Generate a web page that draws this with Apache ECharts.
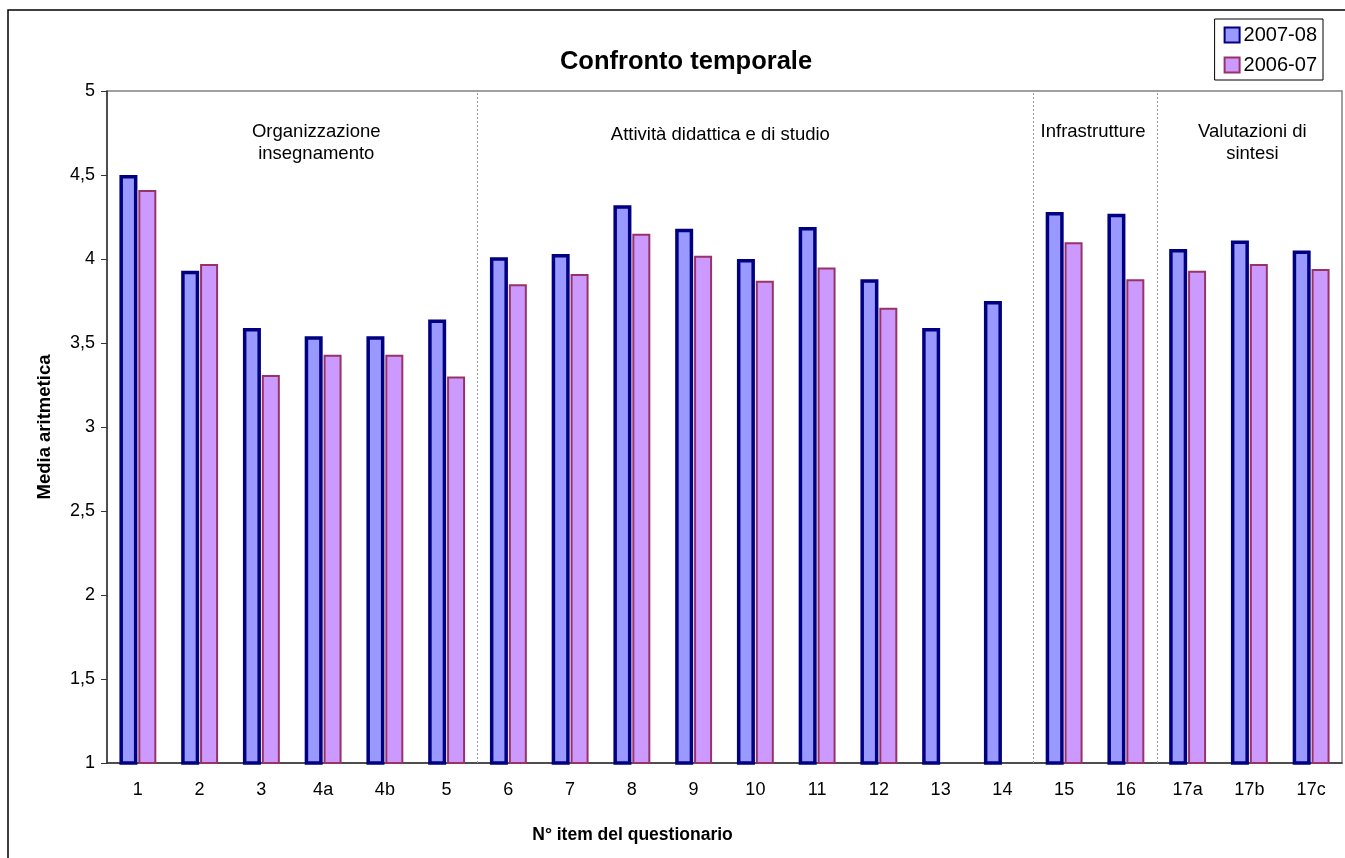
<!DOCTYPE html>
<html>
<head>
<meta charset="utf-8">
<title>Confronto temporale</title>
<script src="https://cdn.jsdelivr.net/npm/echarts@6/dist/echarts.min.js"></script>
<style>
  html, body { margin: 0; padding: 0; background: #fff; }
  #chart { width: 1345px; height: 858px; }
</style>
</head>
<body>
<div id="chart"></div>
<script>
// item del questionario
var items = ['1', '2', '3', '4a', '4b', '5', '6', '7', '8', '9', '10', '11', '12', '13', '14', '15', '16', '17a', '17b', '17c'];
// medie 2007-08 e 2006-07
var anno0708 = [4.50, 3.93, 3.59, 3.54, 3.54, 3.64, 4.01, 4.03, 4.32, 4.18, 4.00, 4.19, 3.88, 3.59, 3.75, 4.28, 4.27, 4.06, 4.11, 4.05];
var anno0607 = [4.41, 3.97, 3.31, 3.43, 3.43, 3.30, 3.85, 3.91, 4.15, 4.02, 3.87, 3.95, 3.71, null, null, 4.10, 3.88, 3.93, 3.97, 3.94];
// gruppi di item: [inizio, fine, etichetta]
var gruppi = [
  [0, 6, 'Organizzazione\ninsegnamento'],
  [6, 15, 'Attività didattica e di studio'],
  [15, 17, 'Infrastrutture'],
  [17, 20, 'Valutazioni di\nsintesi']
];
var separatori = [6, 15, 17];
// spostamento delle etichette dei gruppi
var spostamenti = [[24, 0], [-35, 3], [-2, 0], [3, 0]];

var font = 'Arial, "Liberation Sans", sans-serif';
var myChart = echarts.init(document.getElementById('chart'));

var option = {
  animation: false,
  textStyle: { fontFamily: font, color: '#000' },
  title: {
    text: 'Confronto temporale',
    left: 681,
    top: 44,
    textAlign: 'center',
    textStyle: { fontSize: 25.5, fontWeight: 'bold', color: '#000', fontFamily: font }
  },
  legend: {
    data: ['2007-08', '2006-07'],
    orient: 'vertical',
    right: 22,
    top: 19,
    itemWidth: 15,
    itemHeight: 15,
    itemGap: 10,
    padding: [6, 6, 5, 9],
    backgroundColor: '#fff',
    borderColor: '#000',
    borderWidth: 1,
    icon: 'rect',
    textStyle: { fontSize: 20, color: '#000', fontFamily: font, padding: [0, 0, 0, -1] }
  },
  grid: {
    left: 107,
    right: 3,
    top: 91,
    bottom: 95,
    show: true,
    borderColor: '#808080',
    borderWidth: 1.5
  },
  xAxis: [
    {
      type: 'category',
      data: items,
      name: 'N° item del questionario',
      nameLocation: 'middle',
      nameGap: 63,
      nameTextStyle: { fontSize: 17.5, fontWeight: 'bold', color: '#000', padding: [0, 184, 0, 0] },
      axisLine: { lineStyle: { color: '#333', width: 1.5 } },
      axisTick: { length: 6, lineStyle: { color: '#333' } },
      axisLabel: { fontSize: 18, color: '#000', margin: 18 }
    },
    {
      type: 'value',
      min: 0,
      max: items.length,
      show: false
    }
  ],
  yAxis: {
    type: 'value',
    min: 1,
    max: 5,
    interval: 0.5,
    name: 'Media aritmetica',
    nameLocation: 'middle',
    nameGap: 53,
    nameTextStyle: { fontSize: 18.5, fontWeight: 'bold', color: '#000' },
    axisLine: { show: true, lineStyle: { color: '#333', width: 1.5 } },
    axisTick: { show: true, length: 6, lineStyle: { color: '#333' } },
    splitLine: { show: false },
    axisLabel: {
      fontSize: 18,
      color: '#000',
      margin: 12,
      formatter: function (v) { return String(v).replace('.', ','); }
    }
  },
  series: [
    {
      name: '2007-08',
      type: 'bar',
      data: anno0708,
      barWidth: 18,
      barGap: '5%',
      itemStyle: { color: '#9999FF', borderColor: '#000080', borderWidth: 3.5 }
    },
    {
      name: '2006-07',
      type: 'bar',
      data: anno0607,
      barWidth: 18,
      barGap: '5%',
      itemStyle: { color: '#CC99FF', borderColor: '#993366', borderWidth: 2 }
    },
    {
      name: 'gruppi',
      type: 'line',
      xAxisIndex: 1,
      data: [],
      silent: true,
      markLine: {
        symbol: 'none',
        silent: true,
        label: { show: false },
        lineStyle: { color: '#999', type: [2, 2], width: 1 },
        data: separatori.map(function (s) { return { xAxis: s }; })
      },
      markArea: {
        silent: true,
        itemStyle: { color: 'rgba(0,0,0,0)' },
        label: {
          show: true,
          position: 'insideTop',
          distance: 30,
          fontSize: 18.5,
          lineHeight: 22,
          color: '#000',
          fontFamily: font
        },
        data: gruppi.map(function (g, i) {
          return [
            { xAxis: g[0], name: g[2], label: { offset: spostamenti[i] } },
            { xAxis: g[1] }
          ];
        })
      }
    }
  ],
  graphic: [
    {
      type: 'rect',
      shape: { x: 8, y: 10, width: 1400, height: 900 },
      style: { fill: 'none', stroke: '#000', lineWidth: 1.5 },
      silent: true,
      z: -10
    }
  ]
};

myChart.setOption(option);
</script>
</body>
</html>
